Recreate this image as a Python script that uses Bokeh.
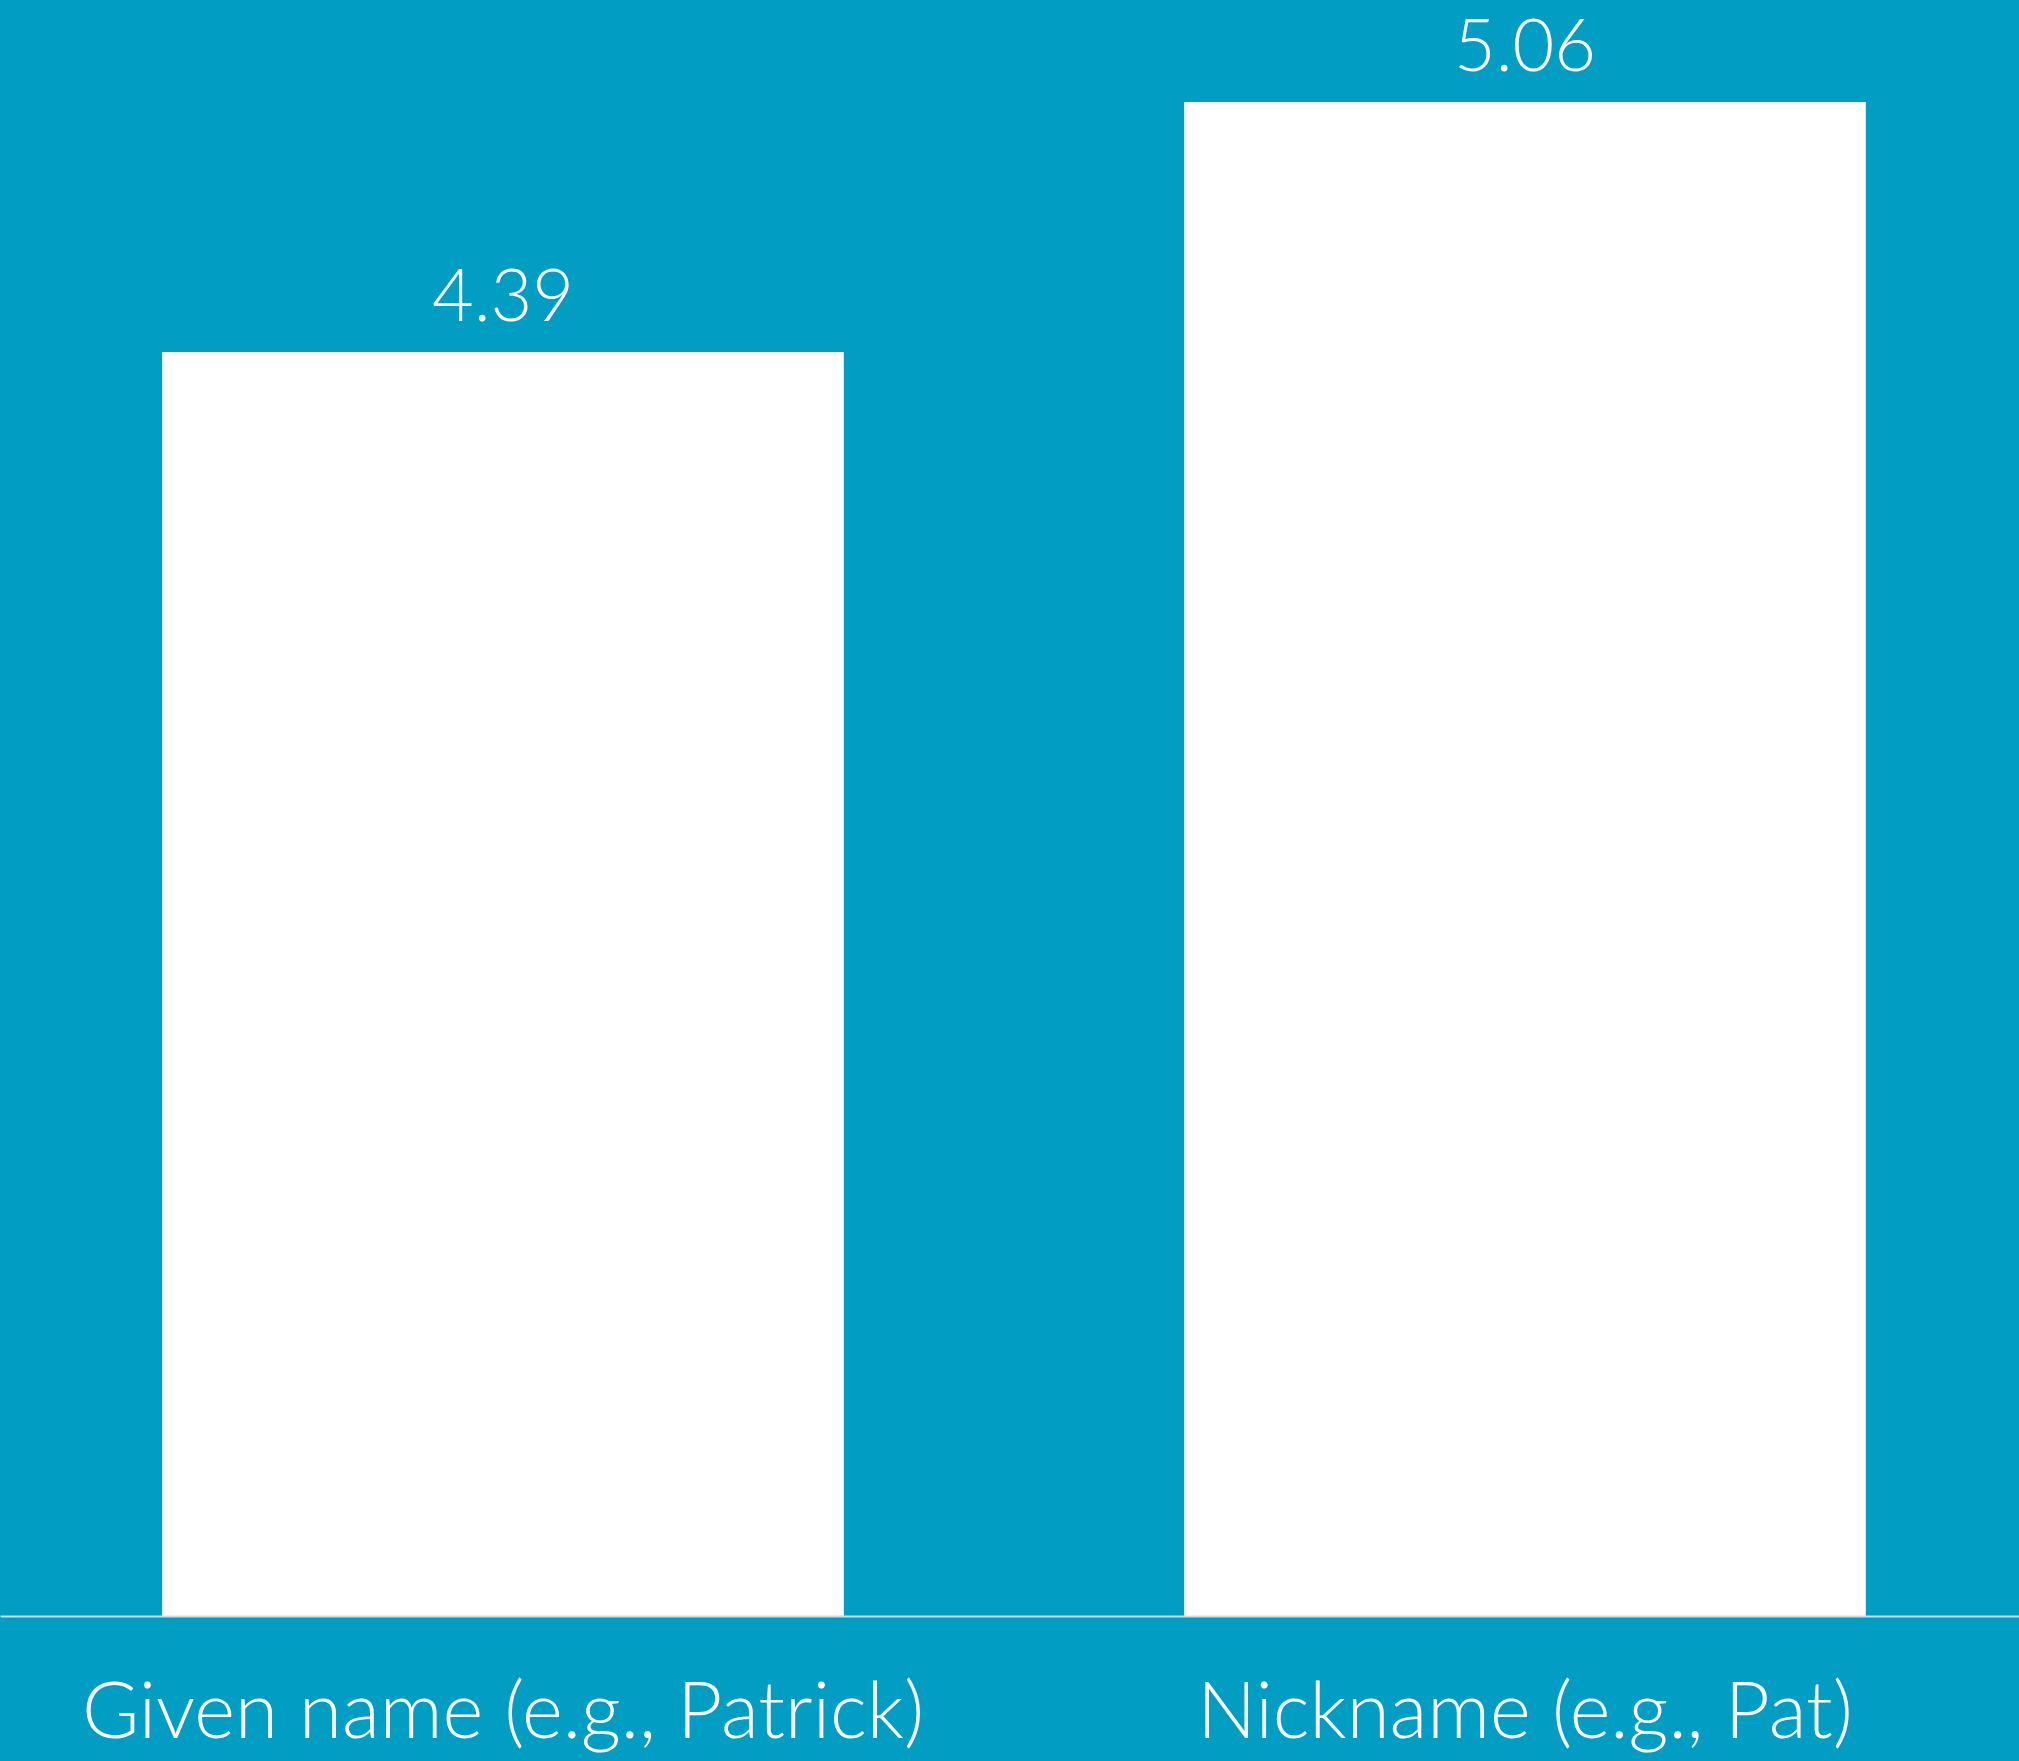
from bokeh.plotting import figure
from bokeh.models import Range1d, FixedTicker, ColumnDataSource
from bokeh.core.properties import value
from bokeh.embed import file_html
from bokeh.resources import INLINE

categories = ["Given name (e.g., Patrick)", "Nickname (e.g., Pat)"]
scores = [4.39, 5.06]
labels = ["4.39", "5.06"]

BG = "#019dc3"
FONT = "Lato Light"

idx = list(range(len(categories)))
src = ColumnDataSource(dict(x=idx, top=scores, label=labels))

p = figure(width=2019, height=1761, output_backend="svg", toolbar_location=None,
           x_range=Range1d(-0.4917, 1.4839), y_range=Range1d(1, 5.332),
           min_border_left=0, min_border_right=0, min_border_top=0, min_border_bottom=145)
p.background_fill_color = BG
p.border_fill_color = BG
p.outline_line_color = None
p.styles = {"background-color": BG}
p.grid.visible = False
p.yaxis.visible = False

p.vbar(x="x", top="top", bottom=1, width=0.667, source=src,
       fill_color="white", line_color=None)

p.text(x="x", y="top", text="label", source=src, y_offset=-57,
       text_align="center", text_baseline="alphabetic",
       text_color="white", text_font=value(FONT), text_font_size="72px")

ax = p.xaxis[0]
ax.ticker = FixedTicker(ticks=idx)
ax.major_label_overrides = {i: c for i, c in zip(idx, categories)}
ax.axis_line_color = "#d9d9d9"
ax.axis_line_width = 2
ax.major_tick_line_color = None
ax.minor_tick_line_color = None
ax.major_label_text_color = "white"
ax.major_label_text_font = FONT
ax.major_label_text_font_size = "78px"
ax.major_label_standoff = 38

open("out.html", "w").write(file_html(p, INLINE))
